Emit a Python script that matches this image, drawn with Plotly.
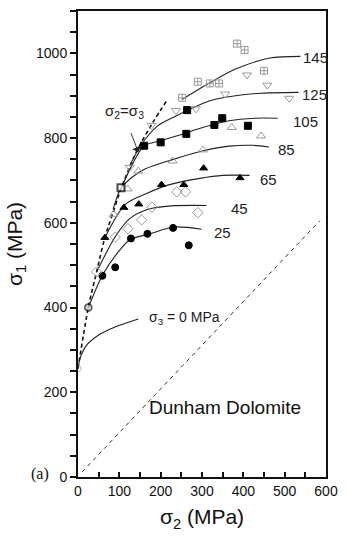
import plotly.graph_objects as go

# ---------------- data ----------------
# experimental points (sigma2, sigma1) by sigma3 level
s25_x = [59, 90, 128, 168, 230, 268]
s25_y = [475, 495, 563, 574, 588, 547]
s45_x = [45, 90, 121, 154, 179, 239, 260, 290]
s45_y = [484, 566, 586, 607, 637, 673, 673, 624]
s65_x = [65, 111, 147, 202, 256, 304, 392]
s65_y = [565, 636, 644, 690, 690, 729, 706]
s85_x = [86, 120, 146, 229, 302, 372, 443]
s85_y = [620, 680, 722, 746, 772, 825, 805]
s105_x = [160, 200, 262, 264, 330, 349, 411]
s105_y = [782, 790, 810, 866, 831, 847, 829]
s125_x = [125, 178, 237, 285, 356, 409, 458, 511]
s125_y = [731, 830, 865, 869, 904, 949, 925, 894]
s145_x = [252, 290, 319, 341, 385, 403, 450]
s145_y = [895, 933, 929, 929, 1023, 1008, 959]

# sigma2 = sigma3 points with centre dot
eq_x = [0, 25, 104]
eq_y = [256, 400, 683]

# fitted curves
c0_x = [0, 5, 20, 50, 80, 100, 146]
c0_y = [256, 280, 310, 335, 350, 358, 373]
c25_x = [25, 60, 99, 127, 170, 233, 299]
c25_y = [400, 478, 533, 561, 573, 590, 585]
c45_x = [45, 90, 125, 170, 225, 311]
c45_y = [484, 567, 610, 632, 640, 641]
c65_x = [65, 115, 170, 217, 295, 350, 415]
c65_y = [565, 644, 671, 689, 705, 712, 712]
c85_x = [85, 103, 130, 162, 225, 303, 366, 421, 462]
c85_y = [633, 680, 707, 727, 748, 770, 781, 783, 779]
c105_x = [105, 130, 160, 201, 262, 288, 366, 428, 483]
c105_y = [683, 735, 782, 794, 812, 821, 841, 847, 847]
c125_x = [125, 154, 193, 237, 264, 319, 381, 444, 534]
c125_y = [735, 786, 829, 852, 865, 888, 900, 906, 908]
c145_x = [252, 320, 381, 464, 538]
c145_y = [891, 931, 963, 989, 993]

# sigma2 = sigma3 locus (dashed)
eqline_x = [0, 25, 45, 65, 85, 105, 125, 145, 180, 217]
eqline_y = [256, 400, 484, 565, 625, 683, 731, 775, 835, 892]
# sigma1 = sigma2 reference line
diag_x = [10, 585]
diag_y = [12, 605]

curve_labels = ["145", "125", "105", "85", "65", "45", "25"]
label_x = [540, 536, 515, 478, 436, 365, 325]
label_y = [991, 904, 839, 773, 703, 634, 577]

x_ticks = [0, 100, 200, 300, 400, 500, 600]
y_ticks = [0, 200, 400, 600, 800, 1000]

# ---------------- figure ----------------
fig = go.Figure()

line_col = "#222222"
fig.add_trace(go.Scatter(x=diag_x, y=diag_y, mode="lines",
                         line=dict(color="#333333", width=1, dash="4px,4px"),
                         hoverinfo="skip"))
fig.add_trace(go.Scatter(x=eqline_x, y=eqline_y, mode="lines",
                         line=dict(color="#111111", width=1.6, dash="4px,3px", shape="spline"),
                         hoverinfo="skip"))
for cx, cy in [(c0_x, c0_y), (c25_x, c25_y), (c45_x, c45_y), (c65_x, c65_y),
               (c85_x, c85_y), (c105_x, c105_y), (c125_x, c125_y), (c145_x, c145_y)]:
    fig.add_trace(go.Scatter(x=cx, y=cy, mode="lines",
                             line=dict(color=line_col, width=1.1, shape="spline", smoothing=0.8),
                             hoverinfo="skip"))

gray = "#9a9a9a"
def pts(x, y, symbol, color, size, lw=1):
    fig.add_trace(go.Scatter(x=x, y=y, mode="markers",
                             marker=dict(symbol=symbol, size=size, color=color,
                                         line=dict(color=color, width=lw))))

pts(s25_x, s25_y, "circle", "#000000", 7)
pts(s45_x, s45_y, "diamond-open", gray, 8)
pts(s65_x, s65_y, "triangle-up", "#000000", 7)
pts(s85_x, s85_y, "triangle-up-open", gray, 8)
pts(s105_x, s105_y, "square", "#000000", 7)
pts(s125_x, s125_y, "triangle-down-open", gray, 8)
pts(s145_x, s145_y, "square-cross-open", gray, 7)

fig.add_trace(go.Scatter(x=eq_x, y=eq_y, mode="markers",
                         marker=dict(symbol=["circle-open", "circle", "square"], size=[6, 7, 7],
                                     color=[gray, "#bbbbbb", "#ffffff"],
                                     line=dict(color=[gray, "#000000", "#000000"], width=[1, 1.5, 2]))))

for t, lx, ly in zip(curve_labels, label_x, label_y):
    fig.add_annotation(x=lx, y=ly, text=t, showarrow=False, xanchor="left", yanchor="middle",
                       font=dict(family="Liberation Sans, Arial", size=15, color="#222222"))

fig.add_annotation(x=168, y=375, text="σ<sub>3</sub> = 0 MPa", showarrow=False, xanchor="left", yanchor="middle",
                   font=dict(family="Liberation Sans, Arial", size=14, color="#222222"))

fig.add_annotation(x=112, y=862, text="σ<sub>2</sub>=σ<sub>3</sub>", showarrow=False,
                   font=dict(family="Liberation Sans, Arial", size=15, color="#222222"))
fig.add_annotation(x=146, y=767, ax=127, ay=815, axref="x", ayref="y", text="",
                   showarrow=True, arrowhead=1, arrowsize=1.8, arrowwidth=0.9, arrowcolor="#222222")

fig.add_annotation(x=355, y=163, text="Dunham Dolomite", showarrow=False,
                   font=dict(family="Liberation Sans, Arial", size=19, color="#111111"))
fig.add_annotation(xref="paper", yref="paper", x=-0.197, y=-0.017, text="(a)", showarrow=False,
                   font=dict(family="Liberation Serif, Times New Roman", size=16, color="#111111"))

axis_font = dict(family="Liberation Sans, Arial", size=14, color="#111111")
fig.update_xaxes(range=[0, 600], tickvals=x_ticks, ticks="inside", ticklen=5, tickwidth=1.5,
                 tickcolor="#111111", showline=True, linecolor="#111111", linewidth=2, mirror=True,
                 showgrid=False, zeroline=False, tickfont=axis_font,
                 minor=dict(dtick=50, ticks="inside", ticklen=5, tickwidth=1.5, tickcolor="#111111"),
                 title=dict(text="σ<sub>2</sub> (MPa)", font=dict(family="Liberation Sans, Arial", size=21, color="#111111"),
                            standoff=12))
fig.update_yaxes(range=[0, 1100], tickvals=y_ticks, ticks="outside", ticklen=6, tickwidth=1.5,
                 tickcolor="#111111", showline=True, linecolor="#111111", linewidth=2, mirror=True,
                 showgrid=False, zeroline=False, tickfont=axis_font,
                 minor=dict(dtick=50, ticks="outside", ticklen=6, tickwidth=1.5, tickcolor="#111111"),
                 title=dict(text="σ<sub>1</sub> (MPa)", font=dict(family="Liberation Sans, Arial", size=21, color="#111111"),
                            standoff=8))

fig.update_layout(width=347, height=542, margin=dict(l=78, r=14, t=9, b=65),
                  paper_bgcolor="white", plot_bgcolor="white", showlegend=False)

fig.write_html("out.html")
